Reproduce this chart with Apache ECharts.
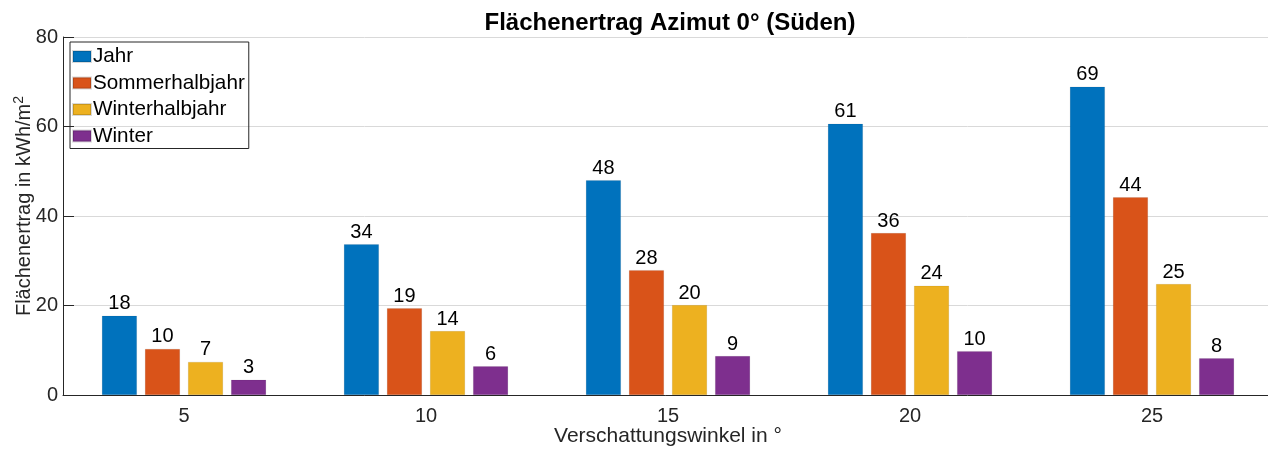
<!DOCTYPE html>
<html>
<head>
<meta charset="utf-8">
<script src="https://cdn.jsdelivr.net/npm/echarts@6/dist/echarts.min.js"></script>
<style>
  html, body { margin: 0; padding: 0; background: #fff; }
  #chart { width: 1268px; height: 454px; }
</style>
</head>
<body>
<div id="chart"></div>
<script>
// Kategorien (Verschattungswinkel in °)
const categories = ['5', '10', '15', '20', '25']
// Flächenertrag in kWh/m² je Zeitraum
const jahr = [17.7, 33.7, 48.0, 60.6, 68.9]
const sommerhalbjahr = [10.3, 19.4, 27.9, 36.2, 44.2]
const winterhalbjahr = [7.4, 14.3, 20.1, 24.4, 24.8]
const winter = [3.4, 6.4, 8.7, 9.8, 8.2]
const yTicks = [0, 20, 40, 60, 80]

const font = '"Liberation Sans", Arial, sans-serif'
const axisColor = '#262626'

const makeSeries = (name, data, color) => ({
  name,
  type: 'bar',
  data,
  barWidth: 35,
  barGap: '23%',
  itemStyle: { color, borderColor: 'rgba(0,0,0,0.15)', borderWidth: 0.5 },
  label: {
    show: true,
    position: 'top',
    distance: 2,
    color: '#000',
    fontSize: 20,
    fontFamily: font,
    formatter: (p) => Math.round(p.value)
  }
})

const chart = echarts.init(document.getElementById('chart'))
chart.setOption({
  animation: false,
  textStyle: { fontFamily: font },
  title: {
    text: 'Flächenertrag Azimut 0° (Süden)',
    left: 670,
    textAlign: 'center',
    top: 11,
    padding: 0,
    textStyle: { fontSize: 24, fontWeight: 'bold', color: '#000', fontFamily: font }
  },
  legend: {
    orient: 'vertical',
    left: 70,
    top: 42,
    padding: [4, 4, 2, 2],
    borderColor: axisColor,
    borderWidth: 1,
    itemWidth: 18,
    itemHeight: 11,
    itemGap: 5.5,
    icon: 'rect',
    textStyle: { fontSize: 20.7, color: '#000', fontFamily: font, padding: [0, 0, 0, -3] },
    data: ['Jahr', 'Sommerhalbjahr', 'Winterhalbjahr', 'Winter']
  },
  grid: { left: 63, top: 37, width: 1210, bottom: 59, outerBoundsMode: 'none', containLabel: false },
  xAxis: {
    type: 'category',
    data: categories,
    name: 'Verschattungswinkel in °',
    nameLocation: 'middle',
    nameGap: 31,
    nameMoveOverlap: false,
    nameTextStyle: { fontSize: 21, color: axisColor },
    axisLine: { lineStyle: { color: axisColor, width: 1 } },
    axisTick: { inside: true, alignWithLabel: true, length: 12, lineStyle: { color: axisColor } },
    axisLabel: { fontSize: 20, color: axisColor, margin: 11 },
    splitLine: { show: false }
  },
  yAxis: {
    type: 'value',
    min: yTicks[0],
    max: yTicks[yTicks.length - 1],
    interval: 20,
    name: 'Flächenertrag in kWh/m{sup|2}',
    nameLocation: 'middle',
    nameGap: 27,
    nameMoveOverlap: false,
    nameTextStyle: {
      fontSize: 20,
      color: axisColor,
      padding: [0, 0, 0, 20],
      rich: { sup: { fontSize: 14, color: axisColor, padding: [0, 0, 10, 0] } }
    },
    axisLine: { show: true, lineStyle: { color: axisColor, width: 1 } },
    axisTick: { show: true, inside: true, length: 11, lineStyle: { color: axisColor } },
    axisLabel: { fontSize: 20, color: axisColor, margin: 5 },
    splitLine: { lineStyle: { color: '#d9d9d9', width: 1 } }
  },
  series: [
    makeSeries('Jahr', jahr, '#0072BD'),
    makeSeries('Sommerhalbjahr', sommerhalbjahr, '#D95319'),
    makeSeries('Winterhalbjahr', winterhalbjahr, '#EDB120'),
    makeSeries('Winter', winter, '#7E2F8E')
  ]
})
</script>
</body>
</html>
